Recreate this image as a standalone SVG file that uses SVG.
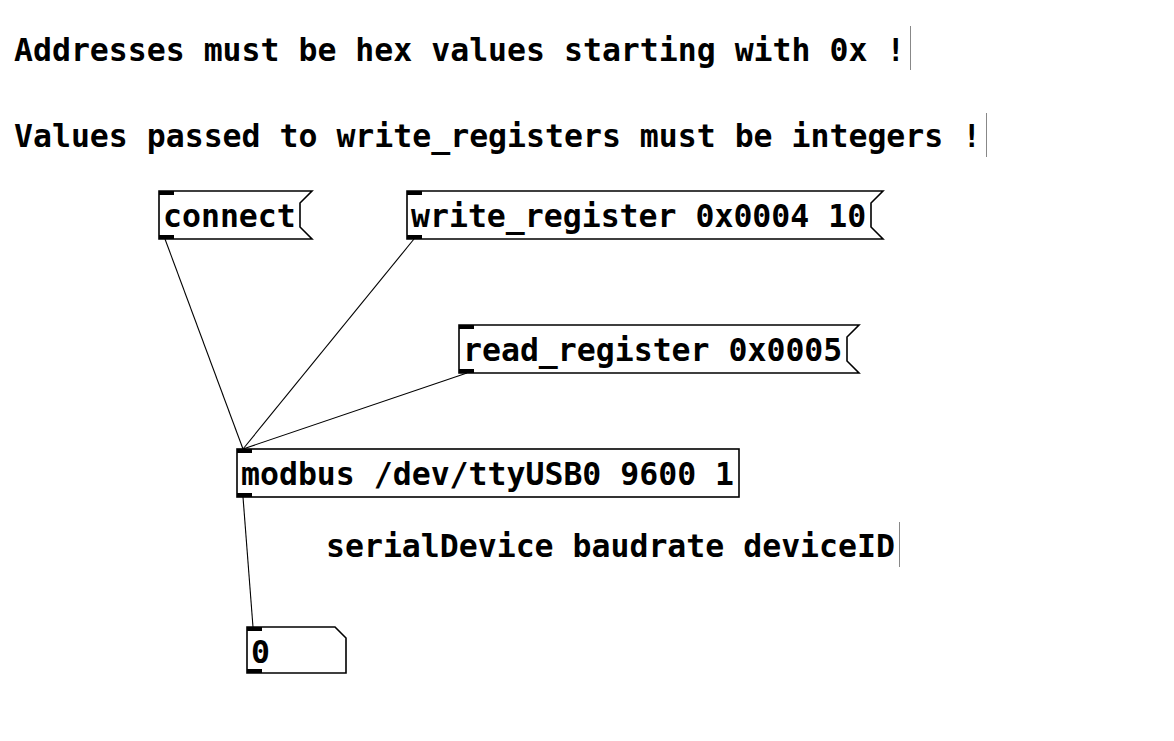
<svg xmlns="http://www.w3.org/2000/svg" width="1174" height="741" viewBox="0 0 1174 741">
<style>
text{font-family:"DejaVu Sans Mono","Liberation Mono",monospace;font-weight:bold;font-size:31.5px;fill:#000}
.box{fill:#fff;stroke:#000;stroke-width:1.6}
.io{fill:#000}
.bar{stroke:#888;stroke-width:1}
.wire{stroke:#000;stroke-width:1.1;fill:none}
</style>
<rect width="1174" height="741" fill="#fff"/>
<g id="comment1">
<text x="14" y="61">Addresses must be hex values starting with 0x !</text>
<line class="bar" x1="910.5" y1="26" x2="910.5" y2="70"/>
</g>
<g id="comment2">
<text x="14" y="147">Values passed to write_registers must be integers !</text>
<line class="bar" x1="986.5" y1="113" x2="986.5" y2="157"/>
</g>
<g id="connectors">
<line class="wire" x1="165" y1="239" x2="243" y2="449"/>
<line class="wire" x1="414" y1="239" x2="243" y2="449"/>
<line class="wire" x1="467" y1="373" x2="243" y2="449"/>
<line class="wire" x1="243" y1="497" x2="253" y2="627"/>
</g>
<g id="msg_connect">
<path class="box" d="M159,191 H312 L300,203 V227 L312,239 H159 Z"/>
<rect class="io" x="159" y="191" width="15" height="4"/>
<rect class="io" x="159" y="235" width="15" height="4"/>
<text x="163" y="227">connect</text>
</g>
<g id="msg_write">
<path class="box" d="M407,191 H883 L871,203 V227 L883,239 H407 Z"/>
<rect class="io" x="407" y="191" width="15" height="4"/>
<rect class="io" x="407" y="235" width="15" height="4"/>
<text x="411" y="227">write_register 0x0004 10</text>
</g>
<g id="msg_read">
<path class="box" d="M459,325 H859 L847,337 V361 L859,373 H459 Z"/>
<rect class="io" x="459" y="325" width="15" height="4"/>
<rect class="io" x="459" y="369" width="15" height="4"/>
<text x="463" y="361">read_register 0x0005</text>
</g>
<g id="obj_modbus">
<rect class="box" x="237" y="449" width="502" height="48"/>
<rect class="io" x="237" y="449" width="15" height="4"/>
<rect class="io" x="237" y="493" width="15" height="4"/>
<text x="241" y="485">modbus /dev/ttyUSB0 9600 1</text>
</g>
<g id="comment3">
<text x="326" y="557">serialDevice baudrate deviceID</text>
<line class="bar" x1="899.5" y1="522" x2="899.5" y2="567"/>
</g>
<g id="number">
<path class="box" d="M247,627 H335 L346,638 V673 H247 Z"/>
<rect class="io" x="247" y="627" width="15" height="4"/>
<rect class="io" x="247" y="669" width="15" height="4"/>
<text x="251" y="663">0</text>
</g>
</svg>
